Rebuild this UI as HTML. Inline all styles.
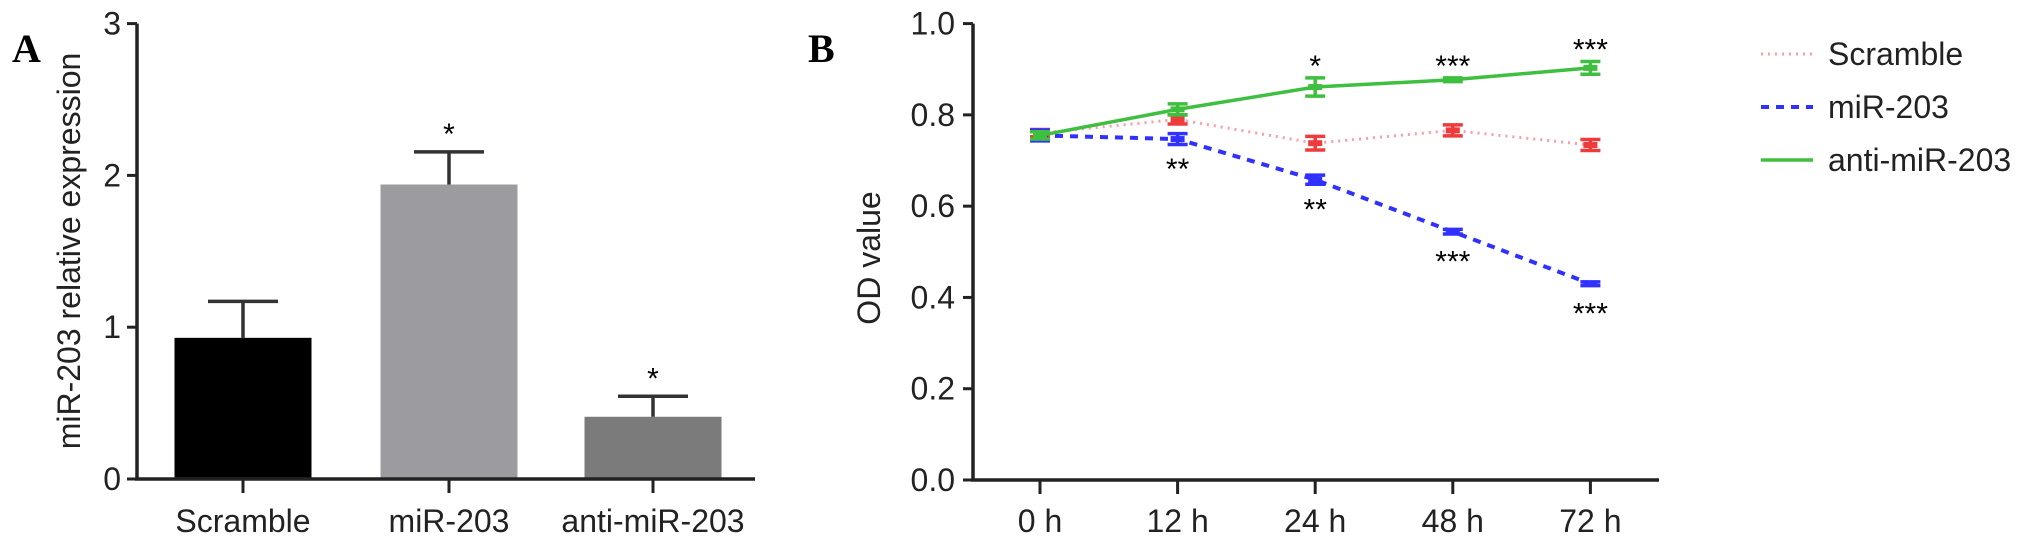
<!DOCTYPE html>
<html><head><meta charset="utf-8"><style>
html,body{margin:0;padding:0;background:#fff;}
svg{display:block;font-family:"Liberation Sans",Arial,sans-serif;}
</style></head><body>
<svg id="fig" width="2032" height="545" viewBox="0 0 2032 545" xmlns="http://www.w3.org/2000/svg">
<text x="12" y="62" font-family="Liberation Serif,serif" font-weight="bold" font-size="40">A</text>
<text x="808" y="62" font-family="Liberation Serif,serif" font-weight="bold" font-size="40">B</text>
<g id="A"></g>
<g id="B"></g>
</svg>
<script>
// Panel A data
const barCats = ["Scramble","miR-203","anti-miR-203"];
const barVals = [0.93, 1.94, 0.41];
const barErrs = [0.24, 0.215, 0.135];
const barStars = ["", "*", "*"];
const barTicks = [0,1,2,3];
// Panel B data
const timeCats = ["0 h","12 h","24 h","48 h","72 h"];
const scrambleVals = [0.760, 0.790, 0.738, 0.766, 0.734];
const scrambleErrs = [0.008, 0.010, 0.015, 0.012, 0.012];
const mirVals = [0.755, 0.747, 0.658, 0.544, 0.430];
const mirErrs = [0.012, 0.012, 0.010, 0.005, 0.004];
const antiVals = [0.755, 0.812, 0.861, 0.877, 0.903];
const antiErrs = [0.008, 0.012, 0.020, 0.004, 0.014];
const antiStars = ["", "", "*", "***", "***"];
const mirStars = ["", "**", "**", "***", "***"];
const lineTicks = [0.0,0.2,0.4,0.6,0.8,1.0];

const NS="http://www.w3.org/2000/svg";
function mk(parent,tag,attrs,txt){const e=document.createElementNS(NS,tag);for(const k in attrs)e.setAttribute(k,attrs[k]);if(txt!==undefined)e.textContent=txt;parent.appendChild(e);return e;}

// ---------- Panel A ----------
const A=document.getElementById('A');
const aX0=137,aX1=755,aY0=479,aY1=23.6,aMax=3;
const ay=v=>aY0-(v/aMax)*(aY0-aY1);
const barCenters=[243,449,653];
const barW=137;
const barColors=["#000000","#9c9ca0","#7b7b7b"];
barVals.forEach((v,i)=>{
  const cx=barCenters[i];
  const r=mk(A,'rect',{x:cx-barW/2,y:ay(v),width:barW,height:aY0-ay(v),fill:barColors[i]});
  
  
  const top=ay(v+barErrs[i]);
  const g=mk(A,'g',{stroke:"#333",'stroke-width':3.5});
  
  
  mk(g,'line',{x1:cx,y1:ay(v),x2:cx,y2:top});
  mk(g,'line',{x1:cx-35,y1:top,x2:cx+35,y2:top});
  if(barStars[i]){
    const s=mk(A,'text',{x:cx,y:top-8,'text-anchor':'middle','font-size':30},barStars[i]);
    
    
  }
  const t=mk(A,'line',{x1:cx,y1:aY0,x2:cx,y2:aY0+14,stroke:"#222",'stroke-width':3});
  
  
  const l=mk(A,'text',{x:cx,y:532,'text-anchor':'middle','font-size':32,fill:"#222"},barCats[i]);
  
  
});
barTicks.forEach(v=>{
  const t=mk(A,'line',{x1:aX0-10,y1:ay(v),x2:aX0,y2:ay(v),stroke:"#222",'stroke-width':3});
  
  
  const l=mk(A,'text',{x:aX0-16,y:ay(v)+11,'text-anchor':'end','font-size':32,fill:"#222"},String(v));
  
  
});
let ax=mk(A,'line',{x1:aX0,y1:aY1,x2:aX0,y2:aY0,stroke:"#222",'stroke-width':3.5});

ax=mk(A,'line',{x1:aX0-2,y1:aY0,x2:aX1,y2:aY0,stroke:"#222",'stroke-width':3.5});

let yt=mk(A,'text',{x:0,y:0,transform:'translate(80,251) rotate(-90)','text-anchor':'middle','font-size':32,fill:"#222"},"miR-203 relative expression");


// ---------- Panel B ----------
const B=document.getElementById('B');
const bX0=973,bX1=1659,bY0=480,bY1=23.6;
const bxs=i=>1040+i*137.6;
const by=v=>bY0-v*(bY0-bY1);
lineTicks.forEach(v=>{
  const t=mk(B,'line',{x1:bX0-10,y1:by(v),x2:bX0,y2:by(v),stroke:"#222",'stroke-width':3});
  
  const l=mk(B,'text',{x:bX0-18,y:by(v)+11,'text-anchor':'end','font-size':32,fill:"#222"},v.toFixed(1));
  
});
timeCats.forEach((c,i)=>{
  const t=mk(B,'line',{x1:bxs(i),y1:bY0,x2:bxs(i),y2:bY0+14,stroke:"#222",'stroke-width':3});
  
  const l=mk(B,'text',{x:bxs(i),y:532,'text-anchor':'middle','font-size':32,fill:"#222"},c);
  
});
ax=mk(B,'line',{x1:bX0,y1:bY1,x2:bX0,y2:bY0,stroke:"#222",'stroke-width':3.5});

ax=mk(B,'line',{x1:bX0-2,y1:bY0,x2:bX1,y2:bY0,stroke:"#222",'stroke-width':3.5});

yt=mk(B,'text',{x:0,y:0,transform:'translate(880,258) rotate(-90)','text-anchor':'middle','font-size':32,fill:"#222"},"OD value");


function series(name,vals,errs,lineColor,markColor,width,dash){
  const g=mk(B,'g',{});
  
  
  const pts=vals.map((v,i)=>bxs(i)+','+by(v)).join(' ');
  const attrs={points:pts,fill:'none',stroke:lineColor,'stroke-width':width};
  if(dash)attrs['stroke-dasharray']=dash;
  const p=mk(g,'polyline',attrs);
  
  
  vals.forEach((v,i)=>{
    const x=bxs(i),t=by(v+errs[i]),b=by(v-errs[i]);
    const e=mk(g,'g',{stroke:markColor,'stroke-width':3.5});
    
    
    mk(e,'line',{x1:x,y1:t,x2:x,y2:b});
    mk(e,'line',{x1:x-10,y1:t,x2:x+10,y2:t});
    mk(e,'line',{x1:x-10,y1:b,x2:x+10,y2:b});
    const m=mk(g,'rect',{x:x-7,y:by(v)-3,width:14,height:6,fill:markColor});
    
    
  });
}
series('scramble',scrambleVals,scrambleErrs,'#ff9aa8','#ee3b3b',3,'2 5');
series('mir-203',mirVals,mirErrs,'#3030ff','#3030ff',4,'8 7');
series('anti-mir-203',antiVals,antiErrs,'#3fbf3f','#3fbf3f',3.5,null);
antiStars.forEach((s,i)=>{ if(!s)return;
  const t=mk(B,'text',{x:bxs(i),y:by(antiVals[i]+antiErrs[i])-2,'text-anchor':'middle','font-size':30},s);
  
});
mirStars.forEach((s,i)=>{ if(!s)return;
  const t=mk(B,'text',{x:bxs(i),y:by(mirVals[i])+40,'text-anchor':'middle','font-size':30},s);
  
});

// Legend
const legNames=["Scramble","miR-203","anti-miR-203"];
const legColors=["#ff9aa8","#3030ff","#3fbf3f"];
const legDash=["2 5","8 7",null];
const legW=[3,4,3.5];
const leg=mk(document.getElementById('fig'),'g',{});


legNames.forEach((n,i)=>{
  const y=54+i*53;
  const e=mk(leg,'g',{});
  
  
  const a={x1:1761,y1:y,x2:1813,y2:y,stroke:legColors[i],'stroke-width':legW[i]};
  if(legDash[i])a['stroke-dasharray']=legDash[i];
  mk(e,'line',a);
  mk(e,'text',{x:1828,y:y+11,'font-size':32,fill:"#222"},n);
});
</script>
</body></html>
